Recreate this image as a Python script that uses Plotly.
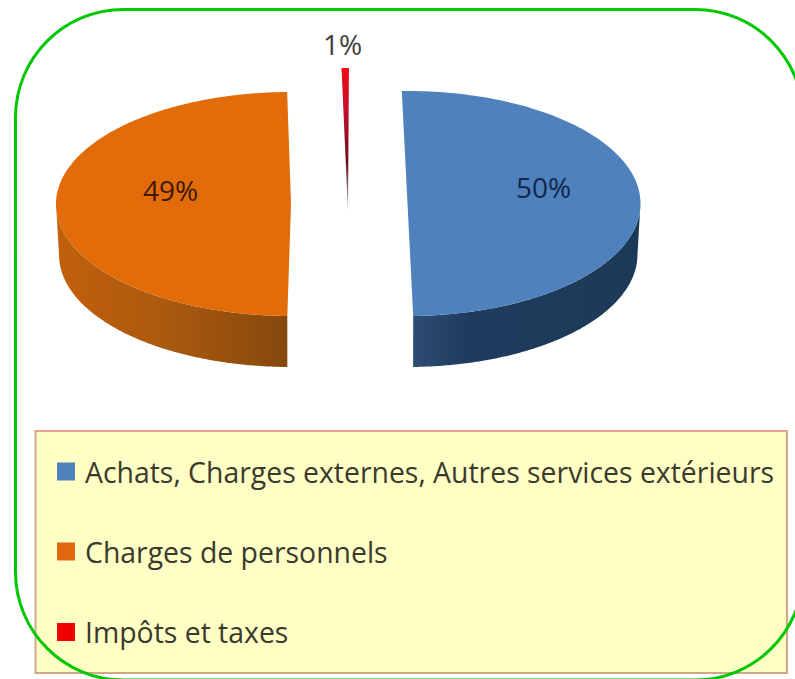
import numpy as np
import plotly.graph_objects as go

# ---- data ----
categories = ["Achats, Charges externes, Autres services extérieurs",
              "Charges de personnels",
              "Impôts et taxes"]
values = [50.0, 49.49, 0.51]
percent_labels = ["50%", "49%", "1%"]

# ---- styles ----
top_colors = ["#4F81BD", "#E26B0A", "#EE0A14"]
side_gradients = [
    [[0, "#2E4D73"], [0.25, "#1F3B5E"], [1, "#1C3A57"]],
    [[0, "#C2600C"], [0.5, "#A9590E"], [1, "#85480D"]],
]
FONT = "'Open Sans', Lato, sans-serif"
W, H = 795, 679

# per-slice drawing geometry (exploded, tilted disc)
start_deg = [-1.4, 180.9, 358.4]
centre_x = [407.5, 291.0, 348.0]
centre_y = [203.5, 204.0, 212.0]
radius_x = [233.0, 235.0, 233.0]
radius_y = [112.5, 112.0, 144.0]
DEPTH = 51.0
BOTTOM_SCALE = 0.987


def rim(cx, cy, rx, ry, a0, a1, n=160):
    t = np.radians(np.linspace(a0, a1, n))
    return cx + rx * np.sin(t), cy - ry * np.cos(t)


fig = go.Figure()

for i, v in enumerate(values):
    a0 = start_deg[i]
    a1 = a0 + v * 3.6
    cx, cy, rx, ry = centre_x[i], centre_y[i], radius_x[i], radius_y[i]
    # visible side wall of the disc
    s0, s1 = max(a0, 90), min(a1, 270)
    if s1 > s0 and i < len(side_gradients):
        xt, yt = rim(cx, cy, rx, ry, s0, s1)
        xb, yb = rim(cx, cy + DEPTH, rx * BOTTOM_SCALE, ry, s1, s0)
        fig.add_trace(go.Scatter(
            x=np.concatenate([xt, xb]), y=np.concatenate([yt, yb]),
            mode="none", fill="toself",
            fillgradient=dict(type="horizontal", colorscale=side_gradients[i]),
            hoverinfo="skip", showlegend=False))
    # top face
    xf, yf = rim(cx, cy, rx, ry, a0, a1)
    xs = np.concatenate([[cx], xf, [cx]])
    ys = np.concatenate([[cy], yf, [cy]])
    if i == 2:
        fig.add_trace(go.Scatter(
            x=xs, y=ys, mode="none", fill="toself",
            fillgradient=dict(type="vertical", colorscale=[
                [0, "#B9B0B4"], [0.35, "#6A0E1E"], [0.7, "#C5102C"], [1, "#EE0A14"]]),
            name=categories[i], hoverinfo="name", showlegend=False))
    else:
        fig.add_trace(go.Scatter(
            x=xs, y=ys, mode="none", fill="toself", fillcolor=top_colors[i],
            name=categories[i], hoverinfo="name", showlegend=False))

# legend swatches
legend_y = [471.5, 551.5, 632.0]
fig.add_trace(go.Scatter(
    x=[66, 66, 66], y=legend_y, mode="markers",
    marker=dict(symbol="square", size=18, color=["#4F81BD", "#E2680F", "#F00000"], line_width=0),
    hoverinfo="skip", showlegend=False))

annotations = []
for cat, yy in zip(categories, [472, 552, 632]):
    annotations.append(dict(x=83, y=yy, text=cat, xref="x", yref="y", xanchor="left",
                            yanchor="middle", showarrow=False,
                            font=dict(family=FONT, size=28.4, color="#3A3A2E")))
label_pos = [(543.5, 187, "#10284A"), (170, 190, "#3E1A04"), (342, 44, "#404040")]
for lab, (lx, ly, col) in zip(percent_labels, label_pos):
    annotations.append(dict(x=lx, y=ly, text=lab, xref="x", yref="y", showarrow=False,
                            xanchor="center", yanchor="middle",
                            font=dict(family=FONT, size=28, color=col)))

# rounded green frame (runs past the right and bottom of the picture)
L, T, R, B, r = 15.5, 9.5, 803, 680, 108
k = r * 0.4477
frame = (f"M {L+r},{T} L {R-r},{T} C {R-k},{T} {R},{T+k} {R},{T+r} "
         f"L {R},{B-r} C {R},{B-k} {R-k},{B} {R-r},{B} "
         f"L {L+r},{B} C {L+k},{B} {L},{B-k} {L},{B-r} "
         f"L {L},{T+r} C {L},{T+k} {L+k},{T} {L+r},{T} Z")

shapes = [
    dict(type="rect", xref="x", yref="y", x0=35.5, x1=787, y0=431, y1=673,
         fillcolor="#FFFEC4", line=dict(color="#CDA888", width=2), layer="below"),
    dict(type="line", xref="x", yref="y", x0=35.5, x1=787, y0=431, y1=431,
         line=dict(color="#E6A08C", width=2), layer="below"),
    dict(type="path", xref="x", yref="y", path=frame,
         line=dict(color="#00C800", width=3), fillcolor="rgba(0,0,0,0)", layer="above"),
]

fig.update_layout(
    width=W, height=H, autosize=False,
    margin=dict(l=0, r=0, t=0, b=0, pad=0),
    paper_bgcolor="white", plot_bgcolor="white",
    xaxis=dict(range=[0, W], visible=False, fixedrange=True),
    yaxis=dict(range=[H, 0], visible=False, fixedrange=True),
    shapes=shapes, annotations=annotations, showlegend=False,
)

fig.write_html("out.html", config={"displayModeBar": False},
               post_script="document.body.style.margin='0';document.body.style.overflow='hidden';")
